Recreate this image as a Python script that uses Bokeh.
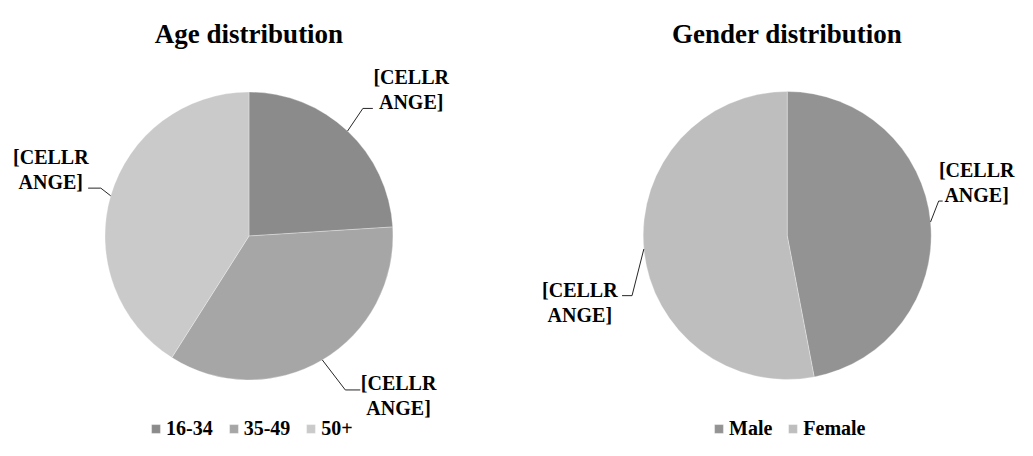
import math
from bokeh.plotting import figure
from bokeh.models import Range1d, ColumnDataSource, Legend, LegendItem
from bokeh.core.properties import value
from bokeh.embed import file_html
from bokeh.resources import INLINE

# ---- data ----
age_categories = ["16-34", "35-49", "50+"]
age_values = [24, 35, 41]
gender_categories = ["Male", "Female"]
gender_values = [47, 53]
age_title = "Age distribution"
gender_title = "Gender distribution"
data_label = "[CELLR\nANGE]"

# ---- style ----
age_colors = ["#8b8b8b", "#a6a6a6", "#cacaca"]
gender_colors = ["#939393", "#bebebe"]
FONT = value("Liberation Serif")

W, H = 1017, 440
REF_H = 456  # data y = REF_H - pixel row

p = figure(width=W, height=H, x_range=Range1d(0, W), y_range=Range1d(REF_H - H, REF_H),
           output_backend="svg", toolbar_location=None, min_border=0,
           x_axis_location=None, y_axis_location=None)
p.grid.visible = False
p.outline_line_color = None
p.background_fill_color = "white"
p.border_fill_color = "white"

def pie(cx, cy, r, cats, vals, colors, geo, title, legend_xy):
    total = float(sum(vals))
    cum = [0.0]
    for v in vals:
        cum.append(cum[-1] + v / total)
    n = len(vals)
    src = ColumnDataSource(dict(
        cat=cats, color=colors,
        start=[math.pi / 2 - 2 * math.pi * cum[i + 1] for i in range(n)],
        end=[math.pi / 2 - 2 * math.pi * cum[i] for i in range(n)],
    ))
    wr = p.wedge(x=cx, y=cy, radius=r, start_angle="start", end_angle="end",
                 fill_color="color", line_color="white", line_alpha=0.5, line_width=0.6,
                 source=src)
    # data labels with leader lines
    xs, ys, lx, ly = [], [], [], []
    for i in range(n):
        mid = 2 * math.pi * (cum[i] + cum[i + 1]) / 2
        ex, ey = cx + r * math.sin(mid), cy + r * math.cos(mid)
        (edx, edy), h, (ox, oy) = geo[i]
        bx, by = ex + edx, ey + edy
        hx = bx + h
        xs.append([ex, bx, hx]); ys.append([ey, by, by])
        lx.append(hx + ox); ly.append(by + oy)
    p.multi_line(xs=xs, ys=ys, line_color="#262626", line_width=1)
    p.text(x=lx, y=ly, text=[data_label] * n, text_font=FONT, text_font_style="bold",
           text_font_size="20px", text_align="center", text_baseline="middle",
           text_line_height=1.15, text_color="black")
    # title
    p.text(x=[cx], y=[REF_H - 33.3], text=[title], text_font=FONT, text_font_style="bold",
           text_font_size="27px", text_align="center", text_baseline="alphabetic",
           text_color="black")
    # legend
    items = [LegendItem(label=cats[i], renderers=[wr], index=i) for i in range(n)]
    leg = Legend(items=items, orientation="horizontal", location=legend_xy,
                 glyph_width=11, glyph_height=11, label_standoff=5, spacing=15,
                 padding=0, margin=0, border_line_color=None, background_fill_alpha=0,
                 label_text_font="Liberation Serif", label_text_font_style="bold",
                 label_text_font_size="20px", label_text_color="black", label_height=20)
    p.add_layout(leg, "center")

# label geometry per slice: (elbow offset), horizontal length, (label offset)
age_geo = [((15.3, 22.6), 10, (38.3, 18.8)),
           ((23.0, -30.0), 15, (38.3, -5.7)),
           ((-9.9, 7.7), -12.7, (-37.3, 18.7))]
gender_geo = [((8.1, 20.9), 4, (34.0, 18.7)),
              ((-11.8, -46.6), -10, (-42.2, -6.6))]

pie(248.5, REF_H - 235.5, 144, age_categories, age_values, age_colors, age_geo,
    age_title, (150, 0))
pie(786.7, REF_H - 235.0, 144, gender_categories, gender_values, gender_colors, gender_geo,
    gender_title, (713, 0))

open("out.html", "w").write(file_html(p, INLINE))
